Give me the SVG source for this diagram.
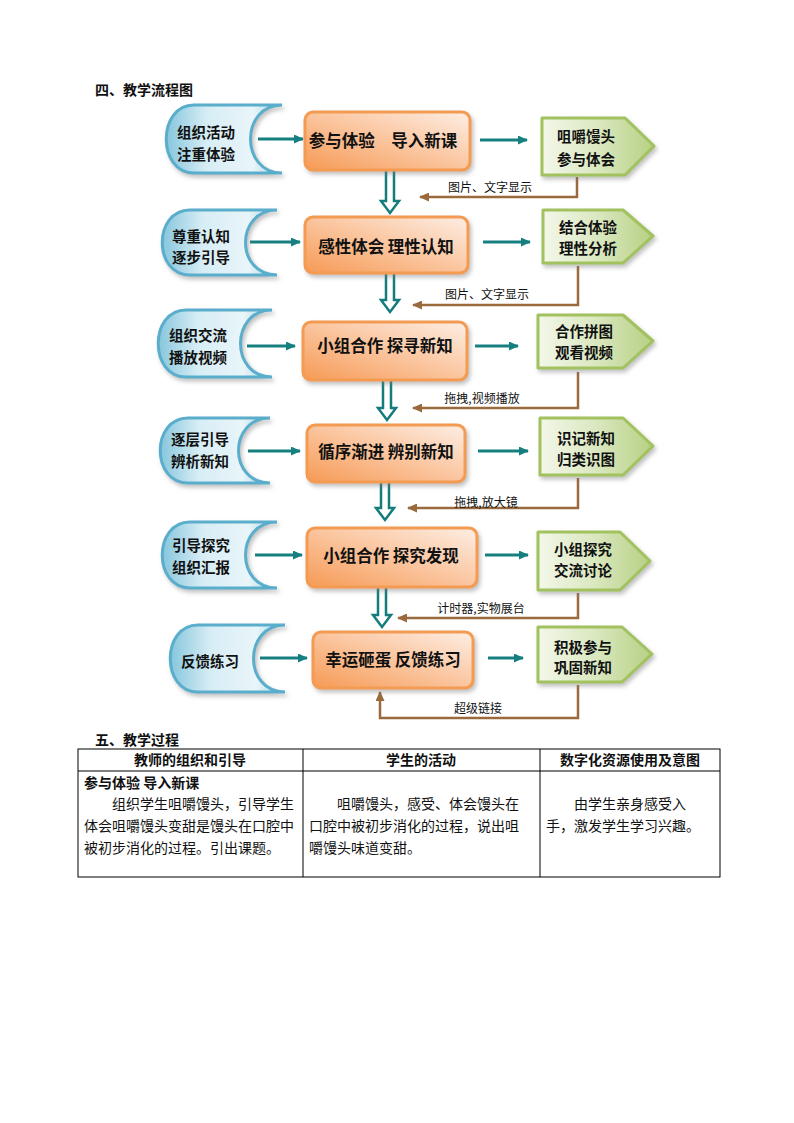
<svg xmlns="http://www.w3.org/2000/svg" width="794" height="1123" viewBox="0 0 794 1123">
<style>
text{font-family:"Noto Sans CJK SC","Liberation Sans",sans-serif;fill:#111}
.h{font-size:14px;font-weight:700}
.ot{font-size:16.5px;font-weight:700;text-anchor:middle}
.bt{font-size:14.5px;font-weight:700;text-anchor:middle}
.gt{font-size:14.5px;font-weight:700;text-anchor:middle}
.lb{font-size:12px;text-anchor:middle}
.blue{fill:url(#gb);stroke:#5aaecb;stroke-width:3;filter:url(#sh)}
.orange{fill:url(#go);stroke:#f39b52;stroke-width:3;filter:url(#sh)}
.green{fill:url(#gg);stroke:#a2c25f;stroke-width:3;stroke-linejoin:round;filter:url(#sh)}
.ta{stroke:#167f80;stroke-width:3;fill:none;marker-end:url(#mt)}
.ba{stroke:#9a6a3d;stroke-width:2.5;fill:none;marker-end:url(#mb)}
.dd{fill:#fff;stroke:#147c7d;stroke-width:2.5;stroke-linejoin:miter}
.tb{fill:none;stroke:#000;stroke-width:1}
.tt{font-size:14px}
.th{font-size:14px;font-weight:700;text-anchor:middle}
</style>
<defs>
<linearGradient id="gb" x1="0" y1="0" x2="1" y2="0">
<stop offset="0" stop-color="#86c6dd"/><stop offset="0.35" stop-color="#d7edf5"/><stop offset="0.75" stop-color="#e9f5f9"/><stop offset="1" stop-color="#9fd2e4"/>
</linearGradient>
<linearGradient id="go" x1="0" y1="1" x2="1" y2="0">
<stop offset="0" stop-color="#f69a55"/><stop offset="0.55" stop-color="#fbc9a5"/><stop offset="1" stop-color="#fdeee4"/>
</linearGradient>
<linearGradient id="gg" x1="0" y1="0" x2="1" y2="0">
<stop offset="0" stop-color="#f3f7e9"/><stop offset="0.5" stop-color="#dae8c0"/><stop offset="1" stop-color="#b7d083"/>
</linearGradient>
<filter id="sh" x="-10%" y="-10%" width="130%" height="140%">
<feDropShadow dx="2" dy="3" stdDeviation="2" flood-color="#777" flood-opacity="0.45"/>
</filter>
<marker id="mt" markerUnits="userSpaceOnUse" markerWidth="10" markerHeight="9" refX="9" refY="4.5" orient="auto">
<path d="M0,0 L10,4.5 L0,9 Z" fill="#167f80"/>
</marker>
<marker id="mb" markerUnits="userSpaceOnUse" markerWidth="10" markerHeight="9" refX="9" refY="4.5" orient="auto">
<path d="M0,0 L10,4.5 L0,9 Z" fill="#9a6a3d"/>
</marker>
</defs>
<rect width="794" height="1123" fill="#fff"/>
<text class="h" x="95" y="95">四、教学流程图</text>

<g id="connectors">
<line class="ta" x1="258" y1="139" x2="303" y2="139"/>
<line class="ta" x1="480" y1="140" x2="527" y2="140"/>
<path class="dd" d="M386,171 V201 H381 L390,213 L399,201 H394 V171"/>
<path class="ba" d="M577,177 V197 H420"/>
<text class="lb" x="490" y="192">图片、文字显示</text>

<line class="ta" x1="250" y1="242" x2="300" y2="242"/>
<line class="ta" x1="483" y1="242" x2="530" y2="242"/>
<path class="dd" d="M386,274 V300 H381 L390,312 L399,300 H394 V274"/>
<path class="ba" d="M578,266 V305 H413"/>
<text class="lb" x="487" y="299">图片、文字显示</text>

<line class="ta" x1="247" y1="346" x2="295" y2="346"/>
<line class="ta" x1="475" y1="346" x2="518" y2="346"/>
<path class="dd" d="M383,381 V408 H378 L387,420 L396,408 H391 V381"/>
<path class="ba" d="M578,372 V408 H413"/>
<text class="lb" x="482" y="403">拖拽,视频播放</text>

<line class="ta" x1="248" y1="451" x2="300" y2="451"/>
<line class="ta" x1="478" y1="451" x2="528" y2="451"/>
<path class="dd" d="M381,483 V508 H376 L385,520 L394,508 H389 V483"/>
<path class="ba" d="M578,478 V508 H408"/>
<text class="lb" x="486" y="507">拖拽,放大镜</text>

<line class="ta" x1="255" y1="555" x2="302" y2="555"/>
<line class="ta" x1="485" y1="555" x2="528" y2="555"/>
<path class="dd" d="M378,588 V615 H373 L382,627 L391,615 H386 V588"/>
<path class="ba" d="M578,593 V618 H398"/>
<text class="lb" x="481" y="613">计时器,实物展台</text>

<line class="ta" x1="260" y1="658" x2="307" y2="658"/>
<line class="ta" x1="488" y1="658" x2="523" y2="658"/>
<path class="ba" d="M578,685 V718 H380 V692"/>
<text class="lb" x="478" y="713">超级链接</text>
</g>

<g id="b1"><path class="blue" d="M194,105 L282,105 C240,105 240,173 282,173 L194,173 C157,173 157,105 194,105 Z"/>
<text class="bt" x="206" y="138">组织活动</text><text class="bt" x="206" y="160">注重体验</text></g>
<g id="o1"><rect class="orange" x="305" y="112" width="165" height="58" rx="8"/>
<text class="ot" x="383" y="147">参与体验　导入新课</text></g>
<g id="g1"><path class="green" d="M542,118 H625 L654,146 L625,175 H542 Z"/>
<text class="gt" x="586" y="142">咀嚼馒头</text><text class="gt" x="586" y="165">参与体会</text></g>

<g id="b2"><path class="blue" d="M190,210 L277,210 C235,210 235,275 277,275 L190,275 C153,275 153,210 190,210 Z"/>
<text class="bt" x="201" y="242">尊重认知</text><text class="bt" x="201" y="263">逐步引导</text></g>
<g id="o2"><rect class="orange" x="305" y="217" width="163" height="56" rx="8"/>
<text class="ot" x="386" y="253">感性体会 理性认知</text></g>
<g id="g2"><path class="green" d="M543,210 H623 L653,236 L623,263 H543 Z"/>
<text class="gt" x="588" y="233">结合体验</text><text class="gt" x="588" y="254">理性分析</text></g>

<g id="b3"><path class="blue" d="M186,310 L272,310 C230,310 230,377 272,377 L186,377 C149,377 149,310 186,310 Z"/>
<text class="bt" x="198" y="341">组织交流</text><text class="bt" x="198" y="363">播放视频</text></g>
<g id="o3"><rect class="orange" x="303" y="322" width="164" height="58" rx="8"/>
<text class="ot" x="385" y="352">小组合作 探寻新知</text></g>
<g id="g3"><path class="green" d="M538,315 H623 L653,341 L623,368 H538 Z"/>
<text class="gt" x="584" y="337">合作拼图</text><text class="gt" x="584" y="358">观看视频</text></g>

<g id="b4"><path class="blue" d="M188,418 L270,418 C228,418 228,483 270,483 L188,483 C151,483 151,418 188,418 Z"/>
<text class="bt" x="200" y="445">逐层引导</text><text class="bt" x="200" y="467">辨析新知</text></g>
<g id="o4"><rect class="orange" x="307" y="425" width="158" height="57" rx="8"/>
<text class="ot" x="386" y="458">循序渐进 辨别新知</text></g>
<g id="g4"><path class="green" d="M540,418 H623 L653,446 L623,475 H540 Z"/>
<text class="gt" x="586" y="444">识记新知</text><text class="gt" x="586" y="465">归类识图</text></g>

<g id="b5"><path class="blue" d="M190,522 L277,522 C235,522 235,588 277,588 L190,588 C153,588 153,522 190,522 Z"/>
<text class="bt" x="201" y="551">引导探究</text><text class="bt" x="201" y="573">组织汇报</text></g>
<g id="o5"><rect class="orange" x="307" y="528" width="170" height="59" rx="8"/>
<text class="ot" x="391" y="562">小组合作 探究发现</text></g>
<g id="g5"><path class="green" d="M538,532 H620 L650,561 L620,590 H538 Z"/>
<text class="gt" x="583" y="555">小组探究</text><text class="gt" x="583" y="576">交流讨论</text></g>

<g id="b6"><path class="blue" d="M198,625 L285,625 C243,625 243,692 285,692 L198,692 C161,692 161,625 198,625 Z"/>
<text class="bt" x="210" y="667">反馈练习</text></g>
<g id="o6"><rect class="orange" x="313" y="632" width="160" height="56" rx="8"/>
<text class="ot" x="393" y="666">幸运砸蛋 反馈练习</text></g>
<g id="g6"><path class="green" d="M538,627 H622 L652,654 L622,682 H538 Z"/>
<text class="gt" x="583" y="653">积极参与</text><text class="gt" x="583" y="673">巩固新知</text></g>

<text class="h" x="95" y="745">五、教学过程</text>
<g id="table">
<rect class="tb" x="78" y="749" width="642" height="128"/>
<line class="tb" x1="78" y1="771" x2="720" y2="771"/>
<line class="tb" x1="303" y1="749" x2="303" y2="877"/>
<line class="tb" x1="540" y1="749" x2="540" y2="877"/>
<text class="th" x="190" y="765">教师的组织和引导</text>
<text class="th" x="421" y="765">学生的活动</text>
<text class="th" x="630" y="765">数字化资源使用及意图</text>
<text class="tt" x="84" y="788" font-weight="700">参与体验 导入新课</text>
<text class="tt" x="112" y="809">组织学生咀嚼馒头，引导学生</text>
<text class="tt" x="84" y="831">体会咀嚼馒头变甜是馒头在口腔中</text>
<text class="tt" x="84" y="853">被初步消化的过程。引出课题。</text>
<text class="tt" x="337" y="809">咀嚼馒头，感受、体会馒头在</text>
<text class="tt" x="309" y="831">口腔中被初步消化的过程，说出咀</text>
<text class="tt" x="309" y="853">嚼馒头味道变甜。</text>
<text class="tt" x="574" y="809">由学生亲身感受入</text>
<text class="tt" x="546" y="831">手，激发学生学习兴趣。</text>
</g>
</svg>
